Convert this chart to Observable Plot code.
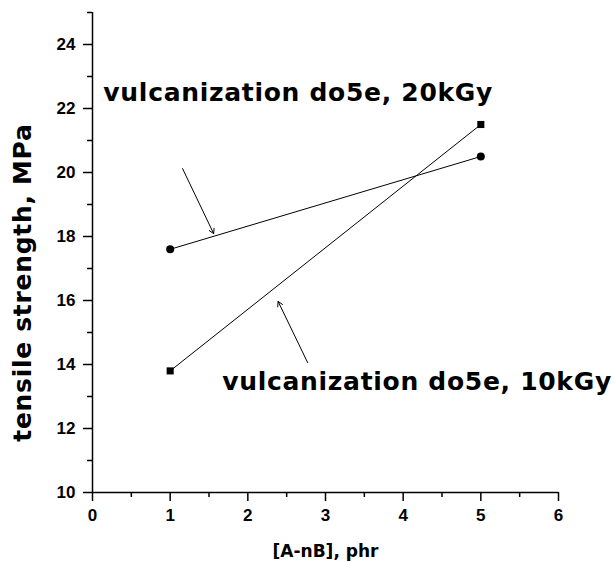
<!DOCTYPE html>
<html><head><meta charset="utf-8">
<script src="https://cdn.jsdelivr.net/npm/d3@7"></script>
<script src="https://cdn.jsdelivr.net/npm/@observablehq/plot@0.6"></script>
<style>
body{margin:0;background:#fff;}
#chart .anno text{letter-spacing:0.7px;}
</style>
</head><body><div id="chart"></div>
<script>
// data
const xValues = [1, 5];
const dose20 = [17.6, 20.5];
const dose10 = [13.8, 21.5];
const seriesNames = ["20kGy", "10kGy"];
const xTicks = [0, 1, 2, 3, 4, 5, 6];
const xMinor = [0.5, 1.5, 2.5, 3.5, 4.5, 5.5];
const yTicks = [10, 12, 14, 16, 18, 20, 22, 24];
const yMinor = [11, 13, 15, 17, 19, 21, 23, 25];
const labels = ["vulcanization do5e, 20kGy", "vulcanization do5e, 10kGy"];
const labelX = [0.14, 1.67];
const labelY = [22.47, 13.44];
const arrowX1 = [1.16, 2.77];
const arrowY1 = [20.12, 14.06];
const arrowX2 = [1.56, 2.39];
const arrowY2 = [18.09, 15.97];
const xTitle = "[A-nB], phr";
const yTitle = "tensile strength, MPa";

const pts = [];
xValues.forEach((x, i) => {
  pts.push({series: seriesNames[0], x, y: dose20[i]});
  pts.push({series: seriesNames[1], x, y: dose10[i]});
});
const annos = labels.map((t, i) => ({t, x: labelX[i], y: labelY[i]}));
const arrows = arrowX1.map((x1, i) => ({x1, y1: arrowY1[i], x2: arrowX2[i], y2: arrowY2[i]}));

const font = "DejaVu Sans";
const chart = Plot.plot({
  width: 615, height: 562,
  marginLeft: 92, marginRight: 57, marginTop: 12, marginBottom: 70,
  x: {domain: [0, 6]},
  y: {domain: [10, 25]},
  style: {background: "#fff", color: "#000"},
  marks: [
    Plot.ruleX([0], {y1: 10, y2: 25, strokeWidth: 1.5}),
    Plot.ruleY([10], {x1: 0, x2: 6, strokeWidth: 1.5}),
    Plot.axisX(xTicks, {tickSize: 9, tickPadding: 7, strokeWidth: 1.5, label: null}),
    Plot.axisX(xMinor, {tickSize: 5, strokeWidth: 1.5, tickFormat: () => "", label: null}),
    Plot.axisY(yTicks, {tickSize: 9, tickPadding: 8, strokeWidth: 1.5, label: null}),
    Plot.axisY(yMinor, {tickSize: 5, strokeWidth: 1.5, tickFormat: () => "", label: null}),
    Plot.line(pts, {x: "x", y: "y", z: "series", stroke: "#000", strokeWidth: 1}),
    Plot.dot(pts.filter(d => d.series === seriesNames[0]), {x: "x", y: "y", r: 4, fill: "#000", symbol: "circle"}),
    Plot.dot(pts.filter(d => d.series === seriesNames[1]), {x: "x", y: "y", r: 4, fill: "#000", symbol: "square"}),
    Plot.arrow(arrows, {x1: "x1", y1: "y1", x2: "x2", y2: "y2", stroke: "#000", strokeWidth: 1, headLength: 8}),
    Plot.text(annos, {x: "x", y: "y", text: "t", textAnchor: "start", fontSize: 25, fontWeight: "bold", fontFamily: font, fill: "#000", className: "anno"}),
    Plot.text([xTitle], {x: 3, y: 10, dy: 59, fontSize: 17, fontWeight: "bold", fontFamily: font, fill: "#000"}),
    Plot.text([yTitle], {x: -0.9, y: 16.56, rotate: -90, fontSize: 25, fontWeight: "bold", fontFamily: font, fill: "#000", className: "anno"})
  ]
});
d3.select(chart).selectAll('g[aria-label*="tick label"]')
  .style("font-size", "17px").style("font-weight", "bold").style("font-family", "Liberation Sans");
document.getElementById("chart").appendChild(chart);
</script>
</body></html>
